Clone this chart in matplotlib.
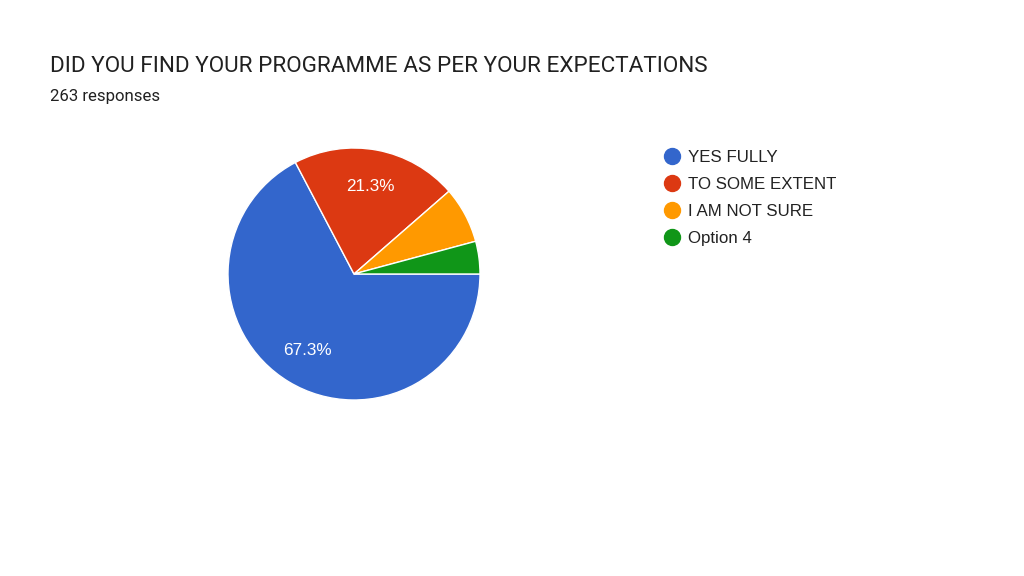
import matplotlib
matplotlib.use('Agg')
import matplotlib.pyplot as plt
from matplotlib.lines import Line2D

# survey answers, 263 responses
labels = ["YES FULLY", "TO SOME EXTENT", "I AM NOT SURE", "Option 4"]
counts = [177, 56, 19, 11]
colors = ["#3366cc", "#dc3912", "#ff9900", "#109618"]

fig = plt.figure(figsize=(10.24, 5.76), dpi=100)
fig.patch.set_facecolor("white")

fig.text(50 / 1024, 1 - 66 / 576, "DID YOU FIND YOUR PROGRAMME AS PER YOUR EXPECTATIONS",
         fontsize=16.2, family="Roboto", color="#212121", va="center", ha="left")
fig.text(50 / 1024, 1 - 96 / 576, "263 responses",
         fontsize=12.1, family="Roboto", color="#212121", va="center", ha="left")

# pie centred at (354, 274) px, radius 126 px
ax = fig.add_axes([(354 - 126) / 1024, (576 - 274 - 126) / 576, 252 / 1024, 252 / 576])


def pct_label(p):
    return f"{p:.1f}%" if p > 10 else ""


wedges, texts, autotexts = ax.pie(
    counts, colors=colors, startangle=0, counterclock=False,
    autopct=pct_label, pctdistance=0.71,
    wedgeprops=dict(edgecolor="white", linewidth=1),
    textprops=dict(color="white", fontsize=12.3, family="Liberation Sans"),
)
ax.set_xlim(-1, 1)
ax.set_ylim(-1, 1)
ax.set_aspect("equal")
ax.axis("off")

handles = [Line2D([0], [0], marker="o", linestyle="", markersize=11.5,
                  markerfacecolor=c, markeredgecolor=c) for c in colors]
leg = fig.legend(handles, labels, loc="upper left",
                 bbox_to_anchor=(667 / 1024, 1 - 150 / 576),
                 frameon=False, handlelength=0.6, handletextpad=0.65,
                 labelspacing=0.71, borderpad=0, borderaxespad=0,
                 prop=dict(family="Liberation Sans", size=12.2))
for t in leg.get_texts():
    t.set_color("#222222")

fig.savefig("out.png", dpi=100, facecolor="white")
